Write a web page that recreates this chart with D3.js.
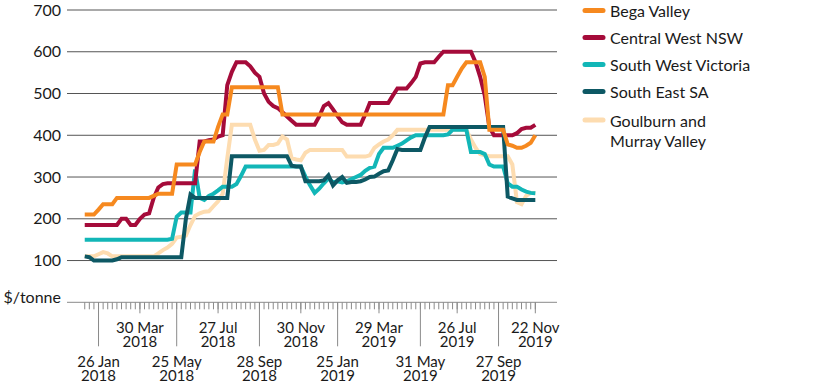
<!DOCTYPE html>
<html><head><meta charset="utf-8">
<script src="https://cdn.jsdelivr.net/npm/d3@7"></script>
<style>
body{margin:0;background:#fff}
svg{display:block}
text{font-family:Lato,"Open Sans",sans-serif;fill:#1a1a1a}
</style>
</head><body>
<svg id="chart" width="816" height="391"></svg>
<script>
// ---- data (weekly, Fridays, from 5 Jan 2018 to 22 Nov 2019) ----
const firstWeek = "2018-01-05";
const weekCount = 99;

const begaValley = [210,210,210,222,235,235,235,250,250,250,250,250,250,250,250,255,260,260,260,260,
  330,330,330,330,330,360,385,385,385,420,450,450,515,515,515,515,515,515,515,515,515,515,515,
  450,450,450,450,450,450,450,450,450,450,450,450,450,450,450,450,450,450,450,450,450,450,450,450,
  450,450,450,450,450,450,450,450,450,450,450,450,520,520,540,560,575,575,575,575,540,413,413,413,413,
  378,375,370,370,375,382,400];
const centralWestNSW = [185,185,185,185,185,185,185,185,200,200,185,185,200,210,213,250,275,283,285,285,
  285,285,285,285,285,385,385,388,390,397,400,520,552,575,575,575,565,550,540,500,480,470,465,455,445,435,
  425,425,425,425,425,445,470,477,462,446,431,425,425,425,425,450,477,477,477,477,477,495,512,512,512,525,540,
  572,575,575,575,588,600,600,600,600,600,600,600,575,540,495,420,400,400,400,400,400,405,415,418,418,425];
const southWestVictoria = [150,150,150,150,150,150,150,150,150,150,150,150,150,150,150,150,150,150,150,152,
  205,215,215,215,318,250,245,255,260,268,277,277,277,283,303,325,325,325,325,325,325,325,325,325,325,325,325,325,
  301,280,262,272,285,297,287,290,287,290,295,300,305,315,322,325,355,370,370,370,375,380,388,395,
  400,400,400,400,400,400,400,402,413,413,413,413,360,360,360,355,330,325,325,325,285,277,277,270,265,262,261];
const southEastSA = [110,108,100,100,100,100,100,103,108,108,108,108,108,108,108,108,108,108,108,108,108,108,
  200,258,250,250,250,250,250,250,250,250,350,350,350,350,350,350,350,350,350,350,350,350,350,
  327,325,325,290,290,290,290,292,304,280,292,300,286,288,288,290,294,300,301,308,314,316,340,
  367,365,365,365,365,365,395,420,420,420,420,420,420,420,420,420,420,420,420,420,420,420,420,420,
  253,249,245,245,245,245,245];
const goulburnMurray = [110,110,110,115,120,117,110,110,110,110,110,110,110,110,110,110,117,125,131,140,
  155,157,160,185,207,213,217,218,230,242,260,345,425,425,425,425,425,390,363,365,377,377,380,397,390,
  345,342,340,358,365,365,365,365,365,365,365,365,349,349,349,349,349,352,370,378,385,390,400,
  413,413,413,413,413,413,413,413,413,413,413,413,413,413,413,413,390,370,355,352,350,350,350,350,350,
  330,240,235,255,262,262];

const seriesNames = ["Bega Valley","Central West NSW","South West Victoria","South East SA","Goulburn and Murray Valley"];
const seriesLegendLines = [["Bega Valley"],["Central West NSW"],["South West Victoria"],["South East SA"],["Goulburn and","Murray Valley"]];
const seriesColors = ["#f6891f","#a50b3a","#12b6b7","#0d5864","#fddcb0"];
const drawOrder = [4,2,1,3,0];

const yTicks = [0,100,200,300,400,500,600,700];
const yTickLabels = ["$/tonne","100","200","300","400","500","600","700"];
const upperLabelDates = ["2018-03-30","2018-07-27","2018-11-30","2019-03-29","2019-07-26","2019-11-22"];
const lowerLabelDates = ["2018-01-26","2018-05-25","2018-09-28","2019-01-25","2019-05-31","2019-09-27"];

// ---- chart ----
const svg = d3.select("#chart");
const parse = d3.utcParse("%Y-%m-%d");
const start = parse(firstWeek);
const dates = d3.range(weekCount).map(i => d3.utcDay.offset(start, 7 * i));
const allSeries = [begaValley, centralWestNSW, southWestVictoria, southEastSA, goulburnMurray];

const x = d3.scaleUtc().domain([parse("2017-12-09"), parse("2019-12-25")]).range([67, 557]);
const y = d3.scaleLinear().domain([0, 700]).range([302.3, 10]);

// gridlines
svg.append("g").selectAll("line").data(yTicks).join("line")
  .attr("x1", 67).attr("x2", 557)
  .attr("y1", d => y(d)).attr("y2", d => y(d))
  .attr("stroke", d => d === 0 ? "#8a8a8a" : "#555").attr("stroke-width", 1);

// y labels
svg.append("g").selectAll("text").data(yTicks).join("text")
  .attr("x", 61).attr("y", d => y(d) + (d === 0 ? 1 : 5.5))
  .attr("text-anchor", "end").style("font-size", "16px")
  .text((d, i) => yTickLabels[i]);

// x axis ticks
const tickG = svg.append("g").attr("stroke", "#8a8a8a").attr("stroke-width", 1);
tickG.selectAll("line.minor").data(dates).join("line").attr("class", "minor")
  .attr("x1", d => x(d)).attr("x2", d => x(d))
  .attr("y1", y(0)).attr("y2", y(0) + 7);
tickG.selectAll("line.mid").data(upperLabelDates.map(parse)).join("line").attr("class", "mid")
  .attr("x1", d => x(d)).attr("x2", d => x(d))
  .attr("y1", y(0)).attr("y2", y(0) + 11);
tickG.selectAll("line.long").data(lowerLabelDates.map(parse)).join("line").attr("class", "long")
  .attr("x1", d => x(d)).attr("x2", d => x(d))
  .attr("y1", y(0)).attr("y2", y(0) + 44);

const fmtDay = d3.utcFormat("%-d %b"), fmtYear = d3.utcFormat("%Y");
function dateLabels(list, y1, y2) {
  const g = svg.append("g").selectAll("text").data(list.map(parse)).join("text")
    .attr("text-anchor", "middle").style("font-size", "15px")
    .attr("x", d => x(d));
  g.append("tspan").attr("x", d => x(d)).attr("y", y1).text(d => fmtDay(d));
  g.append("tspan").attr("x", d => x(d)).attr("y", y2).text(d => fmtYear(d));
}
dateLabels(upperLabelDates, 333, 347);
dateLabels(lowerLabelDates, 367, 381);

// lines
const line = d3.line().x((d, i) => x(dates[i])).y(d => y(d));
drawOrder.forEach(k => {
  svg.append("path").datum(allSeries[k])
    .attr("d", line).attr("fill", "none")
    .attr("stroke", seriesColors[k]).attr("stroke-width", 4)
    .attr("stroke-linejoin", "miter").attr("stroke-linecap", "butt");
});

// legend
const legendY = [10.5, 37.5, 64.5, 91.5, 120];
seriesNames.forEach((name, k) => {
  const g = svg.append("g");
  g.append("line").attr("x1", 585).attr("x2", 603)
    .attr("y1", legendY[k]).attr("y2", legendY[k])
    .attr("stroke", seriesColors[k]).attr("stroke-width", 5).attr("stroke-linecap", "round");
  const t = g.append("text").style("font-size", "16px");
  seriesLegendLines[k].forEach((ln, j) => {
    t.append("tspan").attr("x", 610).attr("y", legendY[k] + 6.5 + j * 20).text(ln);
  });
});
</script>
</body></html>
